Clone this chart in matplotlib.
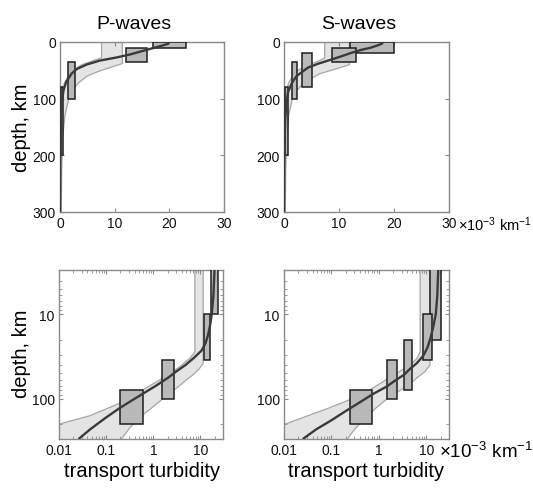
import numpy as np
import matplotlib
matplotlib.use("Agg")
import matplotlib.pyplot as plt
from matplotlib.ticker import LogLocator, NullFormatter

plt.rcParams['font.family'] = ['Liberation Sans', 'DejaVu Sans']
plt.rcParams['mathtext.fontset'] = 'custom'
plt.rcParams['mathtext.rm'] = 'Liberation Sans'
plt.rcParams['mathtext.it'] = 'Liberation Sans'

# ---- data (turbidity in 1e-3 km^-1, depth in km) ----
titles = ["P-waves", "S-waves"]

# best-fit turbidity profile
p_curve_depth = [0, 3, 6, 10, 14, 18, 22, 27, 33, 40, 48, 56, 70, 85, 105, 130, 170, 230, 300]
p_curve_g = [20, 19.8, 18.8, 17.3, 15.8, 14.3, 12.8, 10.5, 7.2, 4.8, 3.0, 2.1, 1.15, 0.65, 0.35, 0.19, 0.095, 0.046, 0.026]
s_curve_depth = [0, 3, 6, 10, 14, 19, 25, 31, 38, 45, 52, 60, 72, 88, 110, 140, 180, 230, 300]
s_curve_g = [18, 17.8, 17, 15.8, 14, 12.3, 10.5, 8.6, 6.3, 4.4, 3.4, 2.3, 1.45, 0.75, 0.4, 0.2, 0.1, 0.048, 0.025]

# confidence band: low-turbidity edge (a) and high-turbidity edge (b)
p_band_a_depth = [0, 28, 33, 41, 53, 73, 110, 159, 200, 300]
p_band_a_g = [7.6, 7.6, 6.0, 3.8, 2.0, 0.75, 0.22, 0.045, 0.01, 0.0015]
p_band_b_depth = [0, 38, 44, 52, 60, 72, 85, 100, 130, 165, 220, 300]
p_band_b_g = [11.4, 11.4, 9.5, 7.0, 5.0, 3.4, 2.3, 1.6, 0.9, 0.52, 0.32, 0.21]
s_band_a_depth = [0, 28, 34, 41, 53, 73, 92, 132, 200, 300]
s_band_a_g = [7.4, 7.4, 6.2, 4.2, 2.0, 0.8, 0.4, 0.079, 0.0105, 0.0015]
s_band_b_depth = [0, 40, 48, 56, 65, 75, 88, 100, 130, 165, 220, 300]
s_band_b_g = [11.9, 11.9, 9.3, 6.5, 4.8, 3.3, 2.1, 1.5, 0.85, 0.55, 0.33, 0.215]

# layer estimates: turbidity range x depth range
p_box_gmin = [17, 12, 1.5, 0.2]
p_box_gmax = [23, 16, 2.7, 0.6]
p_box_dtop = [0, 10, 35, 80]
p_box_dbot = [10, 35, 100, 200]
s_box_gmin = [12, 8.7, 3.3, 1.5, 0.25]
s_box_gmax = [20, 13, 5.0, 2.35, 0.7]
s_box_dtop = [0, 10, 20, 35, 80]
s_box_dbot = [20, 35, 80, 100, 200]

lin_xticks = [0, 10, 20, 30]
lin_yticks = [0, 100, 200, 300]
log_xticks = [0.01, 0.1, 1, 10]
log_xticklabels = ["0.01", "0.1", "1", "10"]
log_yticks = [10, 100]
log_yticklabels = ["10", "100"]

waves = [
    dict(cd=p_curve_depth, cg=p_curve_g,
         ad=p_band_a_depth, ag=p_band_a_g, bd=p_band_b_depth, bg=p_band_b_g,
         b0=p_box_gmin, b1=p_box_gmax, bt=p_box_dtop, bb=p_box_dbot),
    dict(cd=s_curve_depth, cg=s_curve_g,
         ad=s_band_a_depth, ag=s_band_a_g, bd=s_band_b_depth, bg=s_band_b_g,
         b0=s_box_gmin, b1=s_box_gmax, bt=s_box_dtop, bb=s_box_dbot),
]

W, H = 533, 489
fig = plt.figure(figsize=(W / 100, H / 100), dpi=100)


def px_axes(x0, y0, x1, y1):
    return fig.add_axes([x0 / W, 1 - y1 / H, (x1 - x0) / W, (y1 - y0) / H])


frame_col = "#8a8a8a"
band_face = "#e4e4e4"
band_edge = "#a6a6a6"
box_face = "#b9b9b9"
curve_col = "#3a3a3a"


def draw(ax, w):
    ga = np.array(w['ag']); da = np.array(w['ad'])
    gb = np.array(w['bg']); db = np.array(w['bd'])
    ax.fill(np.r_[ga, gb[::-1]], np.r_[da, db[::-1]], color=band_face, lw=0, zorder=1)
    ax.plot(ga, da, color=band_edge, lw=0.9, zorder=2)
    ax.plot(gb, db, color=band_edge, lw=0.9, zorder=2)
    for g0, g1, d0, d1 in zip(w['b0'], w['b1'], w['bt'], w['bb']):
        ax.fill([g0, g1, g1, g0, g0], [d0, d0, d1, d1, d0], facecolor=box_face,
                edgecolor="#1e1e1e", lw=1.1, zorder=3)
    ax.plot(w['cg'], w['cd'], color=curve_col, lw=1.7, zorder=4, solid_capstyle='butt')
    for s in ax.spines.values():
        s.set_color(frame_col)
        s.set_linewidth(1.0)
    ax.tick_params(which='both', direction='in', top=True, right=True,
                   colors=frame_col, labelcolor='#111111', labelsize=10, pad=3)
    ax.tick_params(which='major', length=3)
    ax.tick_params(which='minor', length=2)


col_x = [(60, 224), (284, 449)]
for i, w in enumerate(waves):
    x0, x1 = col_x[i]
    # linear panel
    ax = px_axes(x0, 43, x1, 213)
    draw(ax, w)
    ax.set_xlim(0, 30)
    ax.set_ylim(300, 0)
    ax.set_xticks(lin_xticks)
    ax.set_yticks(lin_yticks)
    # log panel
    axl = px_axes(x0 - (1 if i == 0 else 0), 271, x1 - (1 if i == 0 else 0), 440)
    draw(axl, w)
    axl.set_xscale('log')
    axl.set_yscale('log')
    axl.set_xlim(0.01, 30)
    axl.set_ylim(300, 3)
    axl.set_xticks(log_xticks, log_xticklabels)
    axl.set_yticks(log_yticks, log_yticklabels)
    axl.xaxis.set_minor_locator(LogLocator(base=10, subs=np.arange(2, 10)))
    axl.yaxis.set_minor_locator(LogLocator(base=10, subs=np.arange(2, 10)))
    axl.xaxis.set_minor_formatter(NullFormatter())
    axl.yaxis.set_minor_formatter(NullFormatter())

    fig.text((x0 + x1) / 2 - 8, H - 29, titles[i], ha='center', va='baseline',
             fontsize=14, transform=None)
    fig.text((x0 + x1) / 2, H - 477, "transport turbidity", ha='center',
             va='baseline', fontsize=14.5, transform=None)

for yc in (128, 354):
    fig.text(22, H - yc, "depth, km", rotation=90, ha='center', va='center',
             fontsize=14.5, transform=None)

unit = r"$\times10^{-3}$ km$^{-1}$"
fig.text(458, H - 225, unit, ha='left', va='center', fontsize=10.5, transform=None)
fig.text(439, H - 452, unit, ha='left', va='center', fontsize=13.5, transform=None)

fig.savefig("out.png", dpi=100, facecolor='white')
